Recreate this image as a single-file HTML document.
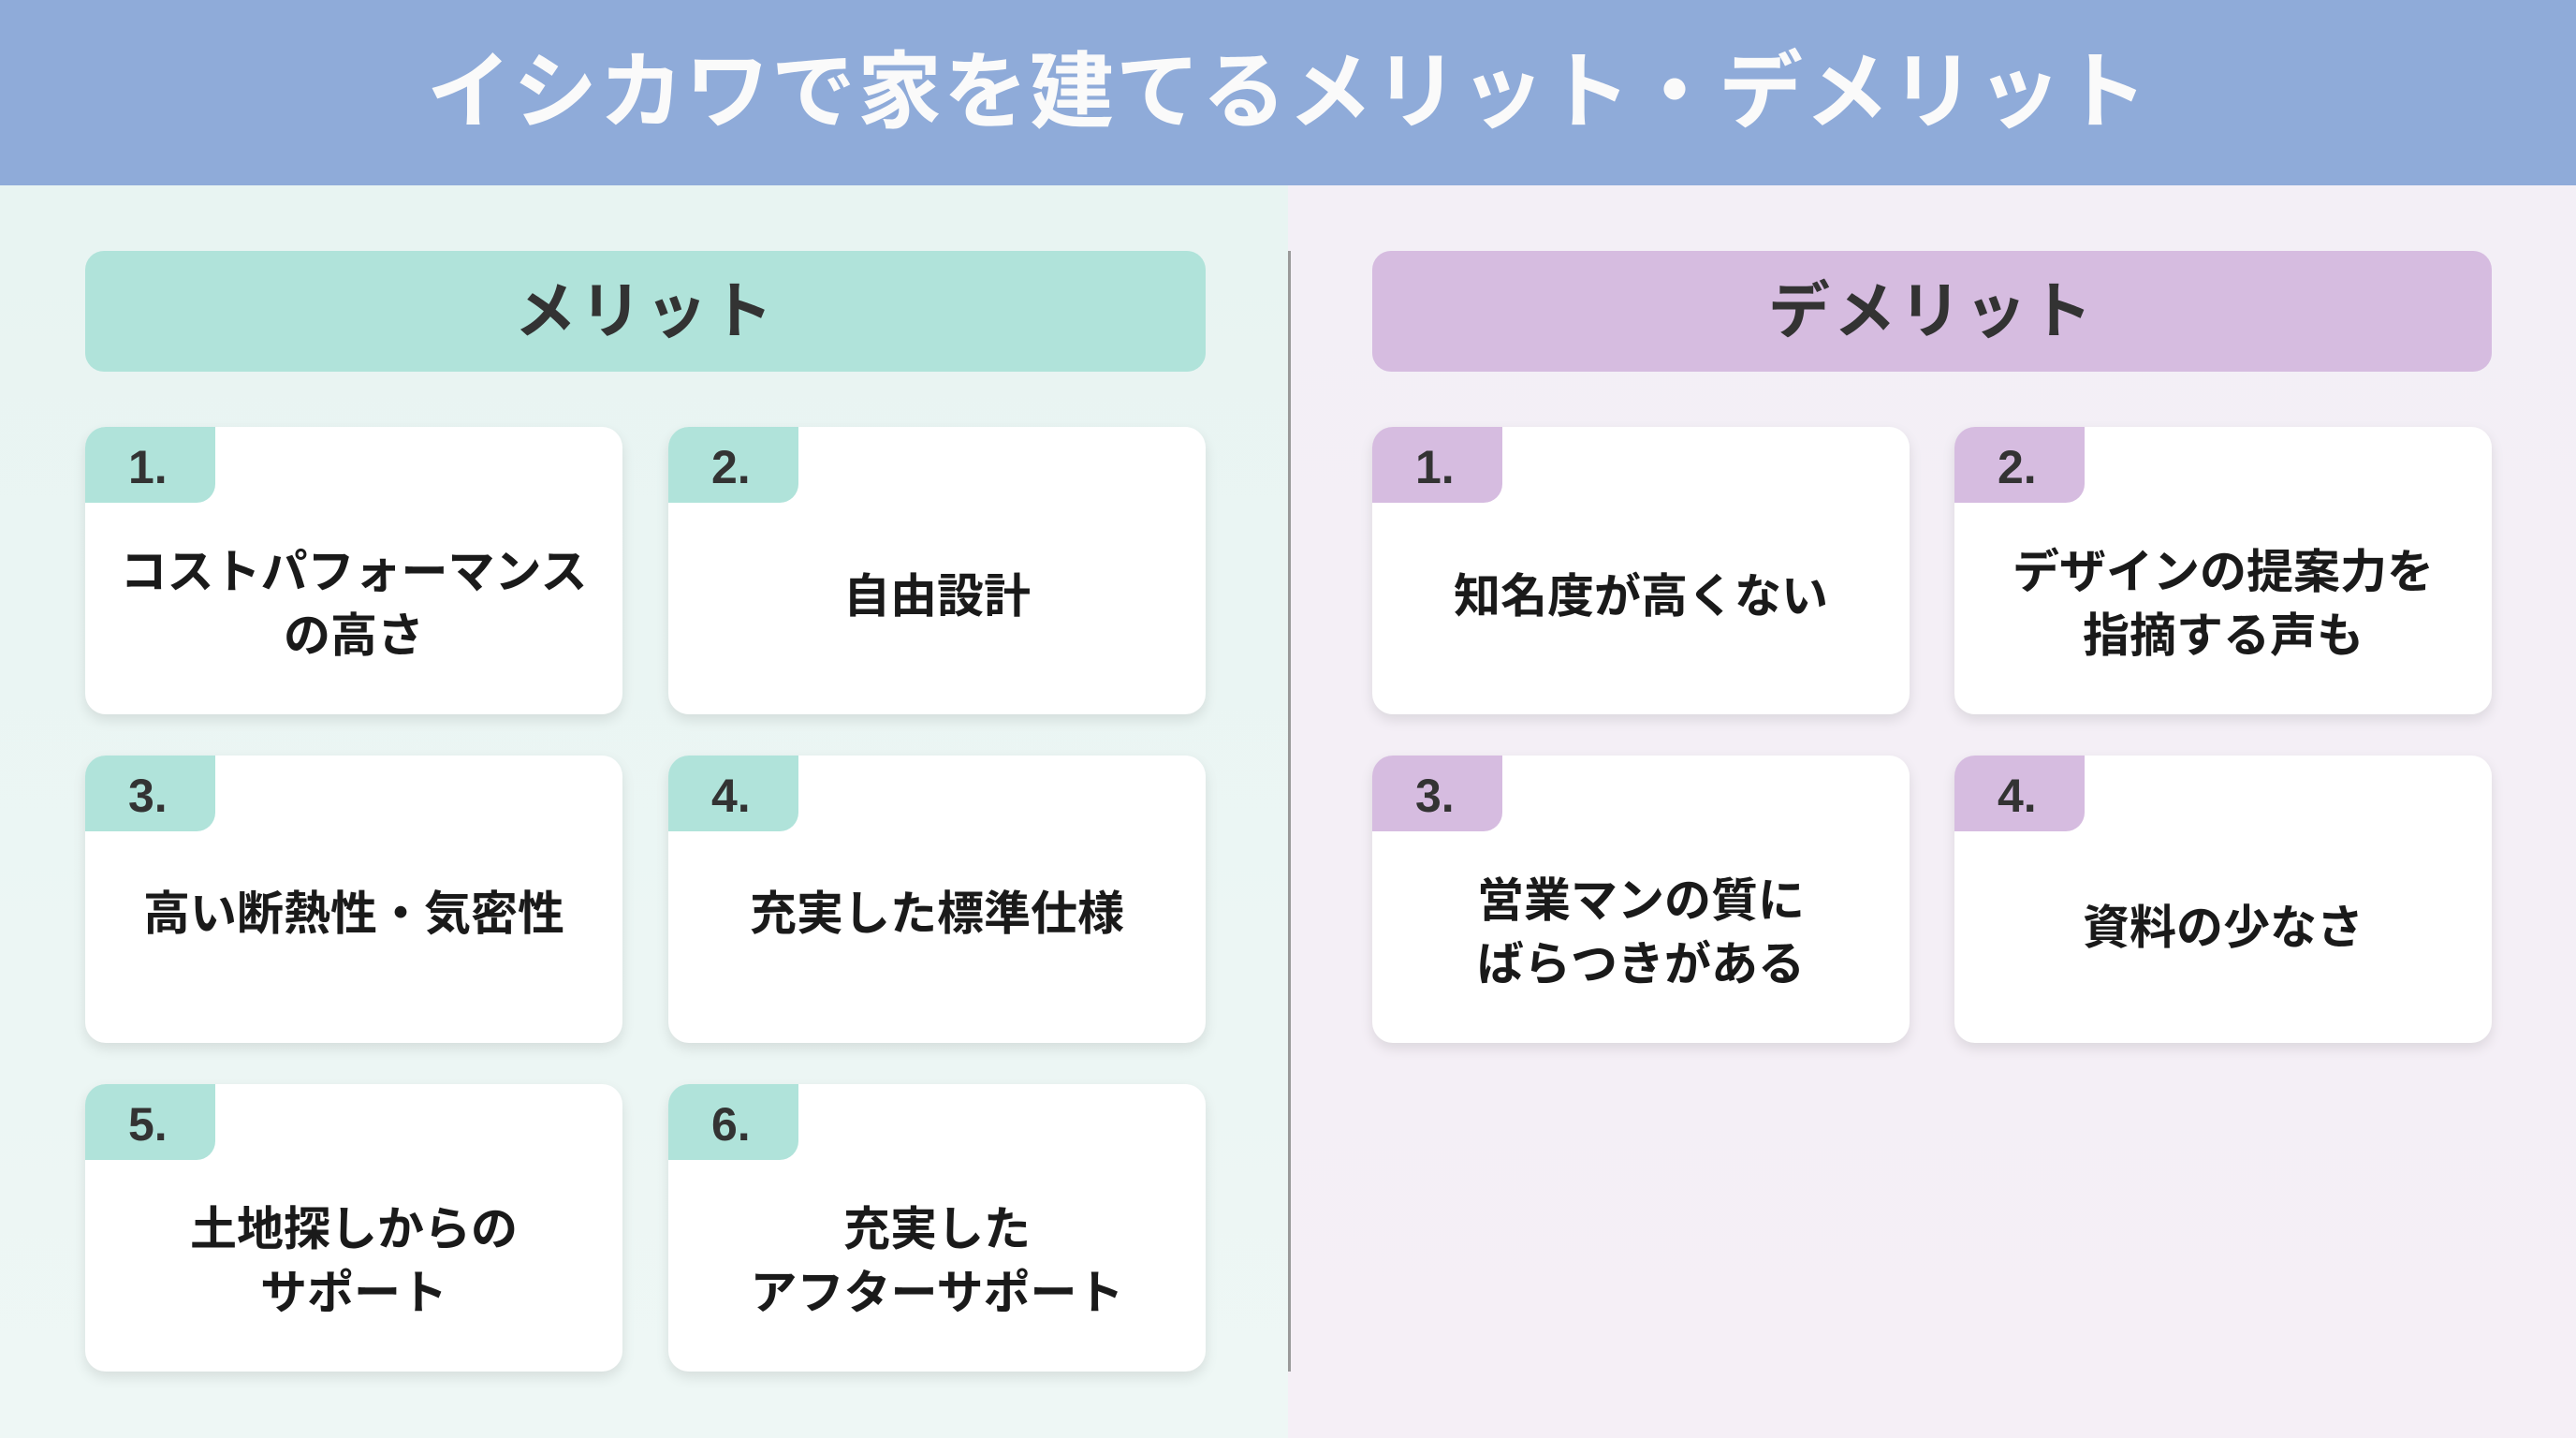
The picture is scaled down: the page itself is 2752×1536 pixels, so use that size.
<!DOCTYPE html>
<html><head><meta charset="utf-8"><style>
*{margin:0;padding:0;box-sizing:border-box}
body{width:2752px;height:1536px;overflow:hidden;font-family:"Liberation Sans","Noto Sans CJK JP",sans-serif;position:relative;background:#f0f2f4}
.hdr{position:absolute;left:0;top:0;width:2752px;height:198px;background:#8fabd9;color:#fafafa;font-weight:700;font-size:90px;text-align:center;line-height:198px;letter-spacing:2px}
.lp{position:absolute;left:0;top:198px;width:1376px;height:1338px;background:linear-gradient(180deg,#e8f4f2,#eef7f5)}
.rp{position:absolute;left:1376px;top:198px;width:1376px;height:1338px;background:linear-gradient(180deg,#f3eff6,#f5eff6)}
.div{position:absolute;left:1376px;top:268px;width:3px;height:1197px;background:#999}
.sec{position:absolute;height:129px;border-radius:20px;text-align:center;line-height:129px;font-size:66px;font-weight:700;color:#333;letter-spacing:4px}
.card{position:absolute;width:574px;height:307px;background:#fff;border-radius:22px;box-shadow:0 6px 14px rgba(0,0,0,0.10);overflow:hidden;display:flex;align-items:center;justify-content:center;text-align:center;font-size:50px;font-weight:700;color:#1a1a1a;line-height:68px;padding-top:70px}
.tab{position:absolute;left:0;top:0;width:139px;height:81px;border-bottom-right-radius:20px;font-size:50px;font-weight:700;color:#333;line-height:86px;padding-left:46px;text-align:left}
.m .tab{background:#b0e3da}.d .tab{background:#d6bce0}
</style></head><body>
<div class="hdr">イシカワで家を建てるメリット・デメリット</div>
<div class="lp"></div><div class="rp"></div><div class="div"></div>
<div class="sec" style="left:91px;top:268px;width:1197px;background:#b0e3da">メリット</div>
<div class="sec" style="left:1466px;top:268px;width:1196px;background:#d6bce0">デメリット</div>

<div class="card m" style="left:91px;top:456px"><div class="tab">1.</div><div>コストパフォーマンス<br>の高さ</div></div>
<div class="card m" style="left:714px;top:456px"><div class="tab">2.</div><div style="margin-top:-16px">自由設計</div></div>
<div class="card m" style="left:91px;top:807px"><div class="tab">3.</div><div style="margin-top:-39px">高い断熱性・気密性</div></div>
<div class="card m" style="left:714px;top:807px"><div class="tab">4.</div><div style="margin-top:-39px">充実した標準仕様</div></div>
<div class="card m" style="left:91px;top:1158px"><div class="tab">5.</div><div>土地探しからの<br>サポート</div></div>
<div class="card m" style="left:714px;top:1158px"><div class="tab">6.</div><div>充実した<br>アフターサポート</div></div>

<div class="card d" style="left:1466px;top:456px"><div class="tab">1.</div><div style="margin-top:-16px">知名度が高くない</div></div>
<div class="card d" style="left:2088px;top:456px"><div class="tab">2.</div><div>デザインの提案力を<br>指摘する声も</div></div>
<div class="card d" style="left:1466px;top:807px"><div class="tab">3.</div><div>営業マンの質に<br>ばらつきがある</div></div>
<div class="card d" style="left:2088px;top:807px"><div class="tab">4.</div><div style="margin-top:-10px">資料の少なさ</div></div>
</body></html>
